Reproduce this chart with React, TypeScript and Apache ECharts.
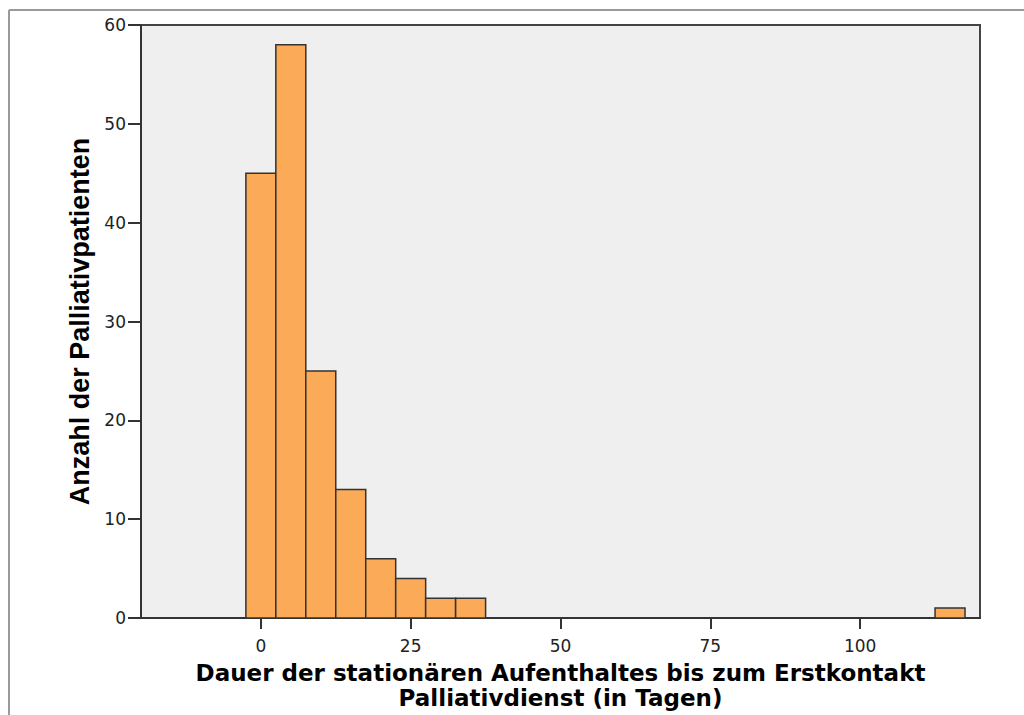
import React, { useEffect, useRef } from "react";
import * as echarts from "echarts";

const binCenters = [0, 5, 10, 15, 20, 25, 30, 35, 115];
const binCounts = [45, 58, 25, 13, 6, 4, 2, 2, 1];
const binWidth = 5;
const xTicks = [0, 25, 50, 75, 100];
const xTitle = "Dauer der stationären Aufenthaltes bis zum Erstkontakt\nPalliativdienst (in Tagen)";
const yTitle = "Anzahl der Palliativpatienten";

export default function App() {
  const ref = useRef<HTMLDivElement>(null);
  useEffect(() => {
    document.body.style.margin = "0";
    const chart = echarts.init(ref.current!, null, { renderer: "svg" });
    const data = binCenters.map((c, i) => [c, binCounts[i]]);
    chart.setOption({
      animation: false,
      backgroundColor: "#ffffff",
      graphic: [
        { type: "line", shape: { x1: 9, y1: 10, x2: 1024, y2: 10 }, style: { stroke: "#9a9a9a", lineWidth: 2 } },
        { type: "line", shape: { x1: 9, y1: 10, x2: 9, y2: 715 }, style: { stroke: "#9a9a9a", lineWidth: 2 } },
      ],
      grid: {
        left: 141,
        top: 25,
        right: 44,
        bottom: 96,
        show: true,
        backgroundColor: "#efefef",
        borderColor: "#444",
        borderWidth: 2,
      },
      xAxis: {
        type: "value",
        min: -20,
        max: 120,
        splitLine: { show: false },
        axisLine: { show: true, onZero: false, lineStyle: { color: "#333", width: 2 } },
        axisTick: { show: true, customValues: xTicks, length: 11, lineStyle: { color: "#333", width: 2 } },
        axisLabel: {
          customValues: xTicks,
          color: "#222",
          fontFamily: "DejaVu Sans",
          fontSize: 17,
          margin: 19,
        },
        name: xTitle,
        nameLocation: "middle",
        nameGap: 42,
        nameTextStyle: {
          fontFamily: "DejaVu Sans",
          fontWeight: "bold",
          fontSize: 23,
          lineHeight: 25,
          color: "#000",
        },
      },
      yAxis: {
        type: "value",
        min: 0,
        max: 60,
        interval: 10,
        splitLine: { show: false },
        axisLine: { show: true, onZero: false, lineStyle: { color: "#333", width: 2 } },
        axisTick: { show: true, length: 13, lineStyle: { color: "#333", width: 2 } },
        axisLabel: {
          color: "#222",
          fontFamily: "DejaVu Sans",
          fontSize: 17,
          margin: 15,
        },
        name: yTitle,
        nameLocation: "middle",
        nameGap: 58,
        nameRotate: 90,
        nameTextStyle: {
          fontFamily: "Liberation Sans",
          fontWeight: "bold",
          fontSize: 27,
          color: "#000",
          verticalAlign: "middle",
        },
      },
      series: [
        {
          type: "custom",
          data,
          encode: { x: 0, y: 1 },
          renderItem: (params: any, api: any) => {
            const c = api.value(0);
            const v = api.value(1);
            const p0 = api.coord([c - binWidth / 2, v]);
            const p1 = api.coord([c + binWidth / 2, 0]);
            return {
              type: "rect",
              shape: { x: p0[0], y: p0[1], width: p1[0] - p0[0], height: p1[1] - p0[1] },
              style: { fill: "#fbab57", stroke: "#333", lineWidth: 1.5 },
            };
          },
        },
      ],
    });
    return () => chart.dispose();
  }, []);
  return <div ref={ref} style={{ width: 1024, height: 715 }} />;
}
